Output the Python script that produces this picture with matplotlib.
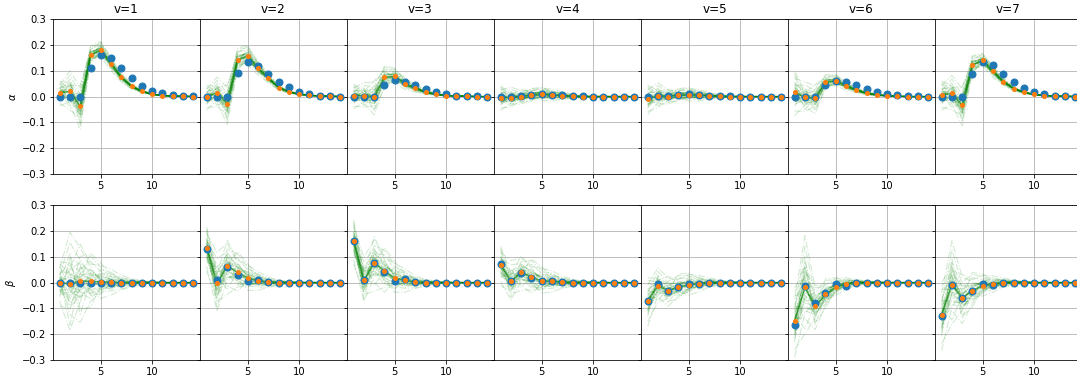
import numpy as np
import matplotlib.pyplot as plt

# lags
x = list(range(1, 15))
titles = ["v=1", "v=2", "v=3", "v=4", "v=5", "v=6", "v=7"]

# ---- alpha: true values (blue) and estimates (orange), one row per v
alpha_true = [
    [0, 0, 0, 0.110, 0.162, 0.149, 0.110, 0.071, 0.042, 0.023, 0.012, 0.005, 0.003, 0.001],
    [0, 0, 0, 0.090, 0.134, 0.120, 0.088, 0.058, 0.036, 0.018, 0.009, 0.004, 0.002, 0.0],
    [0, 0, 0, 0.043, 0.065, 0.056, 0.045, 0.030, 0.017, 0.009, 0.004, 0.002, 0.001, 0.0],
    [0, 0, 0.001, 0.006, 0.009, 0.006, 0.005, 0.003, 0.001, 0, 0, 0, 0, 0],
    [0, 0.003, 0.001, 0.006, 0.008, 0.006, 0.004, 0.002, 0.001, 0, 0, 0, 0, 0],
    [0, 0, 0, 0.043, 0.062, 0.058, 0.043, 0.029, 0.018, 0.009, 0.005, 0.002, 0.001, 0.0],
    [0, 0, 0, 0.088, 0.132, 0.121, 0.088, 0.057, 0.035, 0.019, 0.009, 0.004, 0.001, 0.0],
]
alpha_est = [
    [0.014, 0.020, -0.038, 0.160, 0.182, 0.127, 0.074, 0.039, 0.020, 0.009, 0.004, 0.002, 0.001, 0.0],
    [-0.002, 0.015, -0.028, 0.142, 0.158, 0.110, 0.071, 0.035, 0.018, 0.009, 0.005, 0.002, 0.001, 0.0],
    [0.003, 0.004, -0.001, 0.074, 0.078, 0.050, 0.032, 0.017, 0.009, 0.004, 0.002, 0.001, 0, 0],
    [-0.004, -0.004, 0.0, 0.006, 0.009, 0.006, 0.004, 0.001, 0, 0, 0, 0, 0, 0],
    [-0.010, 0.003, 0.0, 0.006, 0.007, 0.005, 0.003, 0.001, 0, 0, 0, 0, 0, 0],
    [0.016, -0.003, -0.007, 0.055, 0.062, 0.042, 0.025, 0.013, 0.006, 0.003, 0.001, 0, 0, 0],
    [0.006, 0.012, -0.034, 0.123, 0.140, 0.097, 0.058, 0.031, 0.016, 0.008, 0.004, 0.002, 0.001, 0.0],
]

# ---- beta
beta_true = [
    [0, 0, 0, 0, 0, 0, 0, 0, 0, 0, 0, 0, 0, 0],
    [0.130, 0.009, 0.061, 0.030, 0.005, 0.009, 0.001, 0, 0, 0, 0, 0, 0, 0],
    [0.161, 0.009, 0.077, 0.039, 0.005, 0.013, 0.001, 0, 0, 0, 0, 0, 0, 0],
    [0.072, 0.005, 0.036, 0.018, 0.005, 0.006, 0.001, 0, 0, 0, 0, 0, 0, 0],
    [-0.072, -0.006, -0.034, -0.018, -0.004, -0.005, 0, 0, 0, 0, 0, 0, 0, 0],
    [-0.164, -0.012, -0.079, -0.039, -0.006, -0.014, 0, 0, 0, 0, 0, 0, 0, 0],
    [-0.129, -0.009, -0.061, -0.031, -0.004, -0.010, 0, 0, 0, 0, 0, 0, 0, 0],
]
beta_est = [
    [0.0, -0.005, 0.006, 0.005, 0.003, 0.001, 0, 0, 0, 0, 0, 0, 0, 0],
    [0.135, -0.003, 0.064, 0.039, 0.018, 0.006, 0.001, 0, 0, 0, 0, 0, 0, 0],
    [0.161, 0.008, 0.077, 0.044, 0.018, 0.008, 0.001, 0, 0, 0, 0, 0, 0, 0],
    [0.068, 0.005, 0.039, 0.021, 0.006, 0.005, 0.001, 0, 0, 0, 0, 0, 0, 0],
    [-0.071, -0.013, -0.031, -0.018, -0.008, -0.004, 0, 0, 0, 0, 0, 0, 0, 0],
    [-0.148, -0.019, -0.092, -0.046, -0.017, -0.004, 0, 0, 0, 0, 0, 0, 0, 0],
    [-0.124, -0.008, -0.059, -0.031, -0.012, -0.006, 0, 0, 0, 0, 0, 0, 0, 0],
]

# ---- half-width of the green sample bundle
alpha_spread = [
    [0.05, 0.08, 0.09, 0.035, 0.035, 0.03, 0.022, 0.014, 0.009, 0.005, 0.003, 0.002, 0.001, 0],
    [0.05, 0.06, 0.08, 0.045, 0.045, 0.03, 0.022, 0.014, 0.009, 0.005, 0.003, 0.002, 0.001, 0],
    [0.05, 0.05, 0.07, 0.045, 0.035, 0.025, 0.018, 0.012, 0.007, 0.004, 0.002, 0.001, 0, 0],
    [0.05, 0.04, 0.03, 0.025, 0.03, 0.025, 0.018, 0.012, 0.006, 0.003, 0.002, 0.001, 0, 0],
    [0.06, 0.05, 0.03, 0.025, 0.03, 0.025, 0.015, 0.01, 0.006, 0.003, 0.002, 0.001, 0, 0],
    [0.09, 0.06, 0.06, 0.03, 0.025, 0.02, 0.012, 0.009, 0.005, 0.003, 0.002, 0.001, 0, 0],
    [0.06, 0.07, 0.08, 0.035, 0.03, 0.025, 0.018, 0.012, 0.007, 0.004, 0.002, 0.001, 0, 0],
]
beta_spread = [
    [0.09, 0.2, 0.16, 0.11, 0.08, 0.055, 0.035, 0.022, 0.012, 0.006, 0.003, 0.001, 0, 0],
    [0.09, 0.12, 0.11, 0.08, 0.06, 0.04, 0.025, 0.014, 0.007, 0.003, 0.001, 0, 0, 0],
    [0.09, 0.09, 0.11, 0.09, 0.07, 0.05, 0.03, 0.018, 0.009, 0.004, 0.002, 0, 0, 0],
    [0.08, 0.08, 0.07, 0.07, 0.06, 0.045, 0.03, 0.018, 0.009, 0.004, 0.002, 0, 0, 0],
    [0.1, 0.07, 0.06, 0.05, 0.05, 0.035, 0.022, 0.014, 0.007, 0.003, 0.001, 0, 0, 0],
    [0.14, 0.2, 0.09, 0.06, 0.04, 0.025, 0.015, 0.009, 0.005, 0.002, 0.001, 0, 0, 0],
    [0.14, 0.17, 0.1, 0.07, 0.05, 0.035, 0.022, 0.014, 0.007, 0.003, 0.001, 0, 0, 0],
]

# hand-drawn wiggle shapes for the individual sample runs
dev_profiles = [
    [0.3, 0.8, 0.5, 0.2, 0.4, 0.6, 0.5, 0.4, 0.3, 0.3, 0.2, 0.2, 0.1, 0.1],
    [-0.5, -0.2, 0.6, 0.9, 0.7, 0.3, 0.1, -0.1, -0.2, -0.2, -0.1, -0.1, 0.0, 0.0],
    [0.9, 0.4, -0.3, -0.6, -0.4, -0.2, 0.0, 0.2, 0.3, 0.2, 0.2, 0.1, 0.1, 0.0],
    [-0.8, -0.9, -0.5, 0.1, 0.3, 0.2, -0.1, -0.3, -0.4, -0.3, -0.2, -0.1, -0.1, 0.0],
    [0.1, -0.6, -1.0, -0.7, -0.5, -0.6, -0.7, -0.6, -0.5, -0.4, -0.3, -0.2, -0.1, -0.1],
    [0.6, 1.0, 0.8, 0.5, 0.0, -0.3, -0.4, -0.3, -0.2, -0.1, 0.0, 0.0, 0.0, 0.0],
    [-0.2, 0.3, 0.9, 0.6, 0.8, 0.9, 0.8, 0.7, 0.6, 0.5, 0.3, 0.2, 0.1, 0.0],
    [0.4, -0.4, -0.2, 0.3, -0.2, -0.5, -0.3, 0.0, 0.1, 0.1, 0.1, 0.0, 0.0, 0.0],
    [-1.0, -0.5, 0.2, -0.3, -0.8, -0.9, -0.8, -0.7, -0.6, -0.4, -0.3, -0.2, -0.1, 0.0],
    [0.0, 0.6, -0.7, -0.9, -0.2, 0.4, 0.6, 0.5, 0.4, 0.3, 0.2, 0.1, 0.1, 0.0],
    [0.7, -0.1, 0.3, 0.7, 0.5, 0.1, -0.2, -0.1, 0.0, 0.1, 0.0, 0.0, 0.0, 0.0],
    [-0.4, 0.1, -0.4, -0.2, 0.6, 0.7, 0.3, 0.1, -0.1, -0.2, -0.2, -0.1, 0.0, 0.0],
    [0.2, -0.8, 0.1, 0.4, 0.1, -0.1, -0.5, -0.5, -0.4, -0.3, -0.2, -0.1, 0.0, 0.0],
    [-0.6, 0.5, 0.4, -0.5, -0.6, 0.0, 0.2, 0.3, 0.2, 0.1, 0.1, 0.0, 0.0, 0.0],
    [0.8, 0.2, -0.8, 0.0, 0.2, -0.4, -0.1, 0.2, 0.2, 0.1, 0.0, 0.0, 0.0, 0.0],
    [-0.1, -0.3, 0.0, 1.0, 0.9, 0.5, 0.3, 0.0, -0.1, -0.1, -0.1, 0.0, 0.0, 0.0],
]

# ====================================
# Plot
# ====================================
fig, axes = plt.subplots(2, 7, sharey=True, figsize=(1077 / 72, 381 / 72), dpi=72)
plt.subplots_adjust(left=0.0492, right=1.0046, top=0.950, bottom=0.055,
                    wspace=0, hspace=0.2)

rows = [(alpha_true, alpha_est, alpha_spread, r"$\alpha$"),
        (beta_true, beta_est, beta_spread, r"$\beta$")]
dev = np.array(dev_profiles)
# second, tighter half of the runs goes the other way
dev = np.vstack([dev, -0.45 * dev[::-1]])

for r, (true, est, spread, lab) in enumerate(rows):
    for c in range(7):
        ax = axes[r, c]
        samples = np.array(est[c]) + np.array(spread[c]) * dev
        for s in samples:
            ax.plot(x, s, "-.", color="g", alpha=0.17, lw=1.1)
        # dense core of the runs
        ax.plot(x, est[c], "-", color="g", lw=1.6, alpha=0.65)
        ax.plot(x, true[c], "o", color="C0", ms=7)
        ax.plot(x, est[c], "o", color="C1", ms=4)
        ax.grid(True)
        ax.set_xticks([5, 10])
        ax.set_ylim(-0.3, 0.3)
        ax.set_yticks(np.arange(-0.3, 0.31, 0.1))
        if r == 0:
            ax.set_title(titles[c])
        if c == 0:
            ax.set_ylabel(lab)

plt.savefig("out.png", dpi=72)
plt.close()
